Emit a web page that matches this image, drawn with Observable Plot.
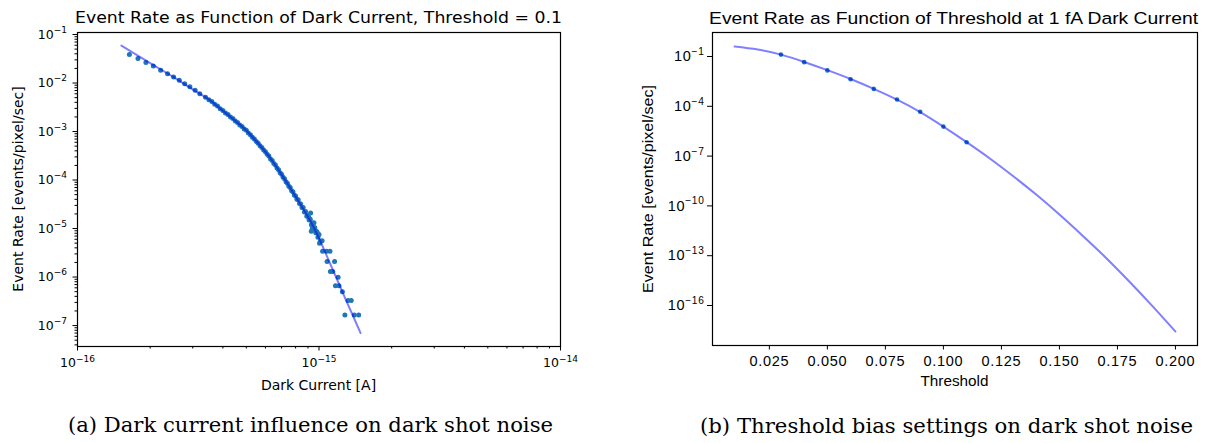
<!DOCTYPE html>
<html>
<head>
<meta charset="utf-8">
<script src="https://cdn.jsdelivr.net/npm/d3@7"></script>
<script src="https://cdn.jsdelivr.net/npm/@observablehq/plot@0.6"></script>
<style>
html, body { margin: 0; padding: 0; background: #fff; }
#fig { position: relative; width: 1205px; height: 443px; overflow: hidden; background: #fff; }
#fig > svg { position: absolute; }
</style>
</head>
<body>
<div id="fig"></div>
<script>
// ---------- Texts ----------
const titleLeft = "Event Rate as Function of Dark Current, Threshold = 0.1";
const titleRight = "Event Rate as Function of Threshold at 1 fA Dark Current";
const xLabelLeft = "Dark Current [A]";
const xLabelRight = "Threshold";
const yLabel = "Event Rate [events/pixel/sec]";
const captionLeft = "(a) Dark current influence on dark shot noise";
const captionRight = "(b) Threshold bias settings on dark shot noise";

// ---------- Left panel: measured points ----------
const darkCurrent = [
  1.64e-16, 1.78e-16, 1.92e-16, 2.06e-16, 2.21e-16, 2.36e-16, 2.50e-16, 2.64e-16, 2.78e-16, 2.92e-16,
  3.07e-16, 3.21e-16, 3.39e-16,
  3.5e-16, 3.6e-16, 3.7e-16, 3.8e-16, 3.9e-16, 4.0e-16, 4.1e-16, 4.2e-16, 4.3e-16, 4.4e-16,
  4.5e-16, 4.6e-16, 4.7e-16, 4.8e-16, 4.9e-16, 5.0e-16, 5.1e-16, 5.2e-16, 5.3e-16, 5.4e-16,
  5.5e-16, 5.6e-16, 5.7e-16, 5.8e-16, 5.9e-16, 6.0e-16, 6.1e-16, 6.2e-16, 6.3e-16, 6.4e-16,
  6.5e-16, 6.6e-16, 6.7e-16, 6.8e-16, 6.9e-16, 7.0e-16, 7.1e-16, 7.2e-16, 7.3e-16, 7.4e-16,
  7.5e-16, 7.6e-16, 7.7e-16, 7.8e-16, 7.9e-16, 8.0e-16, 8.1e-16, 8.2e-16, 8.3e-16, 8.4e-16,
  8.5e-16, 8.6e-16, 8.7e-16, 8.8e-16, 8.9e-16, 9.0e-16, 9.1e-16, 9.2e-16, 9.3e-16, 9.4e-16,
  9.5e-16, 9.6e-16, 9.7e-16, 9.8e-16, 9.9e-16,
  9.23e-16, 9.08e-16, 9.53e-16, 9.38e-16, 9.68e-16, 9.84e-16, 9.29e-16, 1.0e-15, 1.014e-15, 1.03e-15, 1.005e-15,
  1.035e-15, 1.075e-15, 1.11e-15, 1.08e-15, 1.16e-15, 1.115e-15, 1.14e-15, 1.2e-15,
  1.17e-15, 1.21e-15, 1.25e-15, 1.32e-15, 1.36e-15, 1.28e-15, 1.40e-15, 1.46e-15
];
const eventRate = [
  0.0385, 0.0319, 0.0264, 0.0225, 0.0183, 0.0156, 0.0133, 0.01135, 0.0097, 0.0084,
  0.00706, 0.00603, 0.00506,
  4.5e-3, 4.15e-3, 3.66e-3, 3.36e-3, 2.95e-3, 2.72e-3, 2.41e-3, 2.24e-3, 1.99e-3, 1.85e-3,
  1.64e-3, 1.53e-3, 1.36e-3, 1.27e-3, 1.13e-3, 1.06e-3, 9.3e-4, 8.6e-4, 7.6e-4, 7.05e-4,
  6.2e-4, 5.75e-4, 5.1e-4, 4.7e-4, 4.15e-4, 3.84e-4, 3.38e-4, 3.12e-4, 2.72e-4, 2.52e-4,
  2.2e-4, 2.03e-4, 1.76e-4, 1.63e-4, 1.42e-4, 1.31e-4, 1.14e-4, 1.06e-4, 9.2e-5, 8.6e-5,
  7.4e-5, 7.0e-5, 6.0e-5, 5.75e-5, 4.9e-5, 4.7e-5, 4.0e-5, 3.9e-5, 3.3e-5, 3.2e-5,
  2.7e-5, 2.7e-5, 2.2e-5, 2.25e-5, 1.8e-5, 1.85e-5, 1.5e-5, 1.55e-5, 1.2e-5, 1.3e-5,
  1.0e-5, 1.05e-5, 8.2e-6, 8.6e-6, 6.6e-6,
  2.1e-5, 1.66e-5, 1.31e-5, 1.0e-5, 9.1e-6, 8.1e-6, 8.8e-6, 7.5e-6, 5.5e-6, 5.6e-6, 5.0e-6,
  3.4e-6, 3.4e-6, 3.4e-6, 2.1e-6, 2.1e-6, 1.3e-6, 1.3e-6, 9.9e-7,
  6.6e-7, 6.6e-7, 5.0e-7, 3.3e-7, 3.3e-7, 1.65e-7, 1.65e-7, 1.65e-7
];

// ---------- Left panel: fitted curve ----------
const fitCurrent = [1.52e-16, 2.0e-16, 2.5e-16, 3.0e-16, 3.5e-16, 4.0e-16, 4.5e-16, 5.0e-16, 5.5e-16, 6.0e-16,
  6.5e-16, 7.0e-16, 7.5e-16, 8.0e-16, 8.5e-16, 9.0e-16, 9.5e-16, 1.0e-15, 1.1e-15, 1.2e-15, 1.3e-15, 1.4e-15, 1.486e-15];
const fitRate = [0.059, 0.0257, 0.0132, 7.4e-3, 4.57e-3, 2.69e-3, 1.66e-3, 1.05e-3, 6.31e-4, 3.80e-4,
  2.24e-4, 1.29e-4, 7.6e-5, 4.57e-5, 2.82e-5, 1.74e-5, 1.07e-5, 6.3e-6, 2.14e-6, 7.9e-7, 3.16e-7, 1.38e-7, 7.0e-8];

// ---------- Right panel ----------
const thresholdPts = [0.03, 0.04, 0.05, 0.06, 0.07, 0.08, 0.09, 0.10, 0.11];
const ratePts = [0.13, 0.0457, 0.0145, 0.00427, 0.00112, 2.57e-4, 4.68e-5, 6.0e-6, 6.9e-7];
const thresholdFit = [0.01, 0.02, 0.03, 0.04, 0.05, 0.06, 0.07, 0.08, 0.09, 0.10,
  0.11, 0.12, 0.13, 0.14, 0.15, 0.16, 0.17, 0.18, 0.19, 0.20];
const rateFit = [0.40, 0.263, 0.13, 0.047, 0.0150, 0.0044, 0.00112, 2.5e-4, 4.5e-5, 6.0e-6,
  6.9e-7, 7.2e-8, 6.3e-9, 4.8e-10, 3.0e-11, 1.6e-12, 7.6e-14, 2.9e-15, 9.5e-17, 2.7e-18];

// ---------- Ticks ----------
const xMajorLeft = [1e-16, 1e-15, 1e-14];
const yMajorLeft = [1e-1, 1e-2, 1e-3, 1e-4, 1e-5, 1e-6, 1e-7];
const minorMult = [2, 3, 4, 5, 6, 7, 8, 9];
const xMinorDecades = [-16, -15];
const yMinorDecades = [-8, -7, -6, -5, -4, -3, -2];
const yMajorRight = [1e-1, 1e-4, 1e-7, 1e-10, 1e-13, 1e-16];
const xTicksRight = [0.025, 0.05, 0.075, 0.1, 0.125, 0.15, 0.175, 0.2];

const xMinorLeft = xMinorDecades.flatMap(e => minorMult.map(m => m * Math.pow(10, e)));
const yMinorLeft = yMinorDecades.flatMap(e => minorMult.map(m => m * Math.pow(10, e))).filter(v => v > 3.7e-8 && v < 0.11);

const supMap = {"-": "\u207B", "0": "\u2070", "1": "\u00B9", "2": "\u00B2", "3": "\u00B3", "4": "\u2074", "5": "\u2075", "6": "\u2076", "7": "\u2077", "8": "\u2078", "9": "\u2079"};
const unSup = {"\u207B": "\u2212", "\u2070": "0", "\u00B9": "1", "\u00B2": "2", "\u00B3": "3", "\u2074": "4", "\u2075": "5", "\u2076": "6", "\u2077": "7", "\u2078": "8", "\u2079": "9"};
const pow10 = d => "10" + String(Math.round(Math.log10(d))).split("").map(c => supMap[c]).join("");

const leftPoints = darkCurrent.map((I, i) => ({I, R: eventRate[i]}));
const leftLine = fitCurrent.map((I, i) => ({I, R: fitRate[i]}));
const rightPoints = thresholdPts.map((t, i) => ({t, R: ratePts[i]}));
const rightLine = thresholdFit.map((t, i) => ({t, R: rateFit[i]}));

// turn "10⁻⁷" tick labels into "10" + a real superscript tspan (mathtext-like)
function mathSup(svg, scale, raise) {
  svg.querySelectorAll("text").forEach(el => {
    const s = el.textContent;
    const m = s.match(/^10([\u207B\u2070\u00B9\u00B2\u00B3\u2074-\u2079]+)$/);
    if (!m) return;
    const fs = parseFloat(getComputedStyle(el).fontSize);
    const exp = Array.from(m[1]).map(c => unSup[c]).join("");
    el.textContent = "10";
    const ts = document.createElementNS("http://www.w3.org/2000/svg", "tspan");
    ts.setAttribute("dy", (-raise * fs).toFixed(2));
    ts.setAttribute("font-size", (scale * fs).toFixed(2) + "px");
    ts.textContent = exp;
    el.appendChild(ts);
  });
}

const fig = document.getElementById("fig");

const left = Plot.plot({
  width: 600, height: 400,
  marginLeft: 77, marginRight: 40, marginTop: 32, marginBottom: 54,
  x: {type: "log", domain: [1e-16, 1e-14]},
  y: {type: "log", domain: [3.7e-8, 0.11]},
  style: {fontFamily: "DejaVu Sans", fontSize: "12.5px", color: "black", background: "transparent", overflow: "visible"},
  marks: [
    Plot.dot(leftPoints, {x: "I", y: "R", r: 2.5, fill: "#1f77b4", stroke: "none"}),
    Plot.line(leftLine, {x: "I", y: "R", stroke: "blue", strokeOpacity: 0.5, strokeWidth: 2, curve: "monotone-x"}),
    Plot.frame({stroke: "black", strokeWidth: 1.2}),
    Plot.axisX(xMajorLeft, {tickSize: 4.5, tickPadding: 7.5, tickFormat: pow10, label: null}),
    Plot.axisX(xMinorLeft, {tickSize: 2.5, fill: "none", label: null}),
    Plot.axisY(yMajorLeft, {tickSize: 4.5, tickPadding: 6, tickFormat: pow10, label: null}),
    Plot.axisY(yMinorLeft, {tickSize: 2.5, fill: "none", label: null})
  ]
});
left.style.left = "0px"; left.style.top = "0px";
fig.appendChild(left);
mathSup(left, 0.72, 0.45);

const right = Plot.plot({
  width: 605, height: 400,
  marginLeft: 112, marginRight: 8, marginTop: 32, marginBottom: 55,
  x: {domain: [0.0005, 0.2095]},
  y: {type: "log", domain: [3.9e-19, 2.79]},
  style: {fontFamily: "Liberation Sans", fontSize: "14.5px", letterSpacing: "0.7px", color: "black", background: "transparent", overflow: "visible"},
  marks: [
    Plot.dot(rightPoints, {x: "t", y: "R", r: 2.3, fill: "#1f77b4", stroke: "none"}),
    Plot.line(rightLine, {x: "t", y: "R", stroke: "blue", strokeOpacity: 0.5, strokeWidth: 2, curve: "natural"}),
    Plot.frame({stroke: "black", strokeWidth: 1.2}),
    Plot.axisX(xTicksRight, {tickSize: 4.5, tickPadding: 6, tickFormat: d3.format(".3f"), label: null}),
    Plot.axisY(yMajorRight, {tickSize: 5, tickPadding: 3, tickFormat: pow10, label: null})
  ]
});
right.style.left = "600px"; right.style.top = "0px";
fig.appendChild(right);
mathSup(right, 0.7, 0.42);

// ---------- Titles, axis labels, captions ----------
const ov = d3.create("svg").attr("width", 1205).attr("height", 443)
  .style("left", "0px").style("top", "0px").style("pointer-events", "none");
function addText(txt, x, y, opts) {
  const t = ov.append("text").attr("x", x).attr("y", y).attr("text-anchor", "middle")
    .attr("font-family", opts.family).attr("font-size", opts.size).attr("fill", "black").text(txt);
  if (opts.len) t.attr("textLength", opts.len).attr("lengthAdjust", "spacingAndGlyphs");
  if (opts.rotate) t.attr("transform", `rotate(-90 ${x} ${y})`);
  return t;
}
addText(titleLeft, 318.5, 23, {family: "DejaVu Sans", size: 16, len: 487});
addText(titleRight, 953.5, 24.3, {family: "Liberation Sans", size: 16.8, len: 489});
addText(xLabelLeft, 318.5, 390, {family: "DejaVu Sans", size: 14});
addText(yLabel, 23.3, 189, {family: "DejaVu Sans", size: 14, rotate: true});
addText(xLabelRight, 954.5, 386, {family: "Liberation Sans", size: 14, len: 68});
addText(yLabel, 653.3, 189, {family: "Liberation Sans", size: 14, len: 208, rotate: true});
addText(captionLeft, 310.5, 432, {family: "DejaVu Serif", size: 19.5, len: 485});
addText(captionRight, 946.5, 433, {family: "DejaVu Serif", size: 19.5, len: 493});
fig.appendChild(ov.node());
</script>
</body>
</html>
